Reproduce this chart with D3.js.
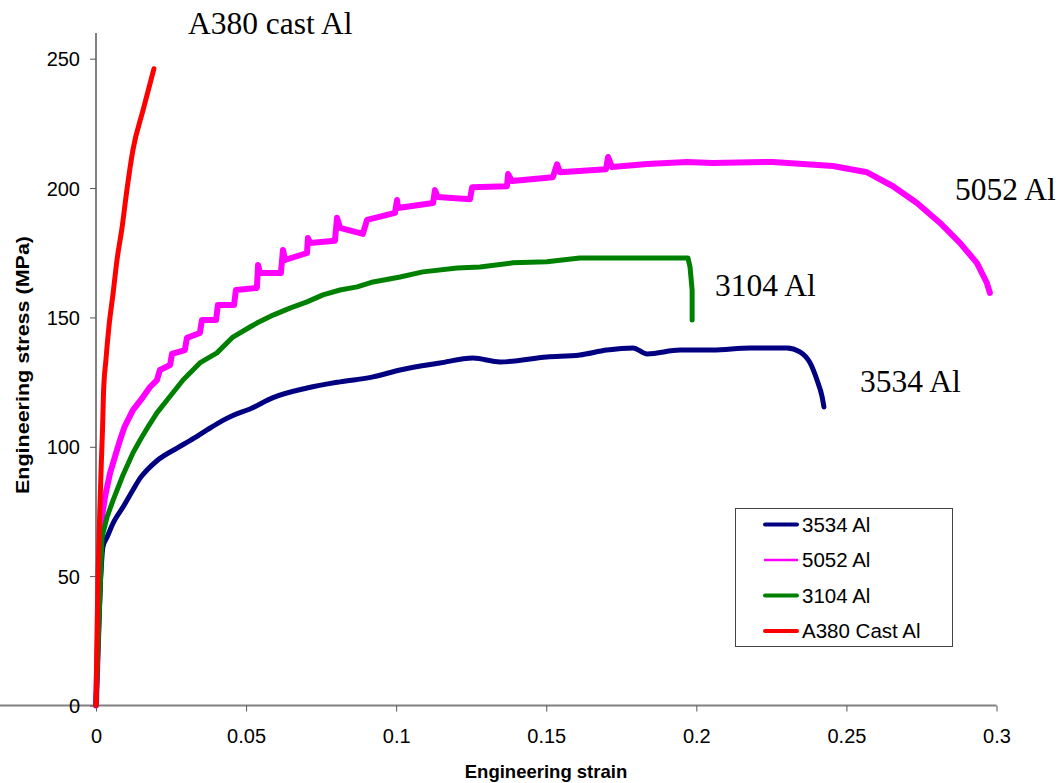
<!DOCTYPE html>
<meta charset='utf-8'>
<head>
  <title>Engineering stress-strain</title>
  <style>
    body { margin: 0; background: #fff; }
    svg { display: block; }
  </style>
</head>
<body>
  <div id='chart'></div>
</body>
<script src='https://d3js.org/d3.v7.min.js'></script>
<script>

// strain, stress (MPa)
var al3534 = [
  [0, 0], [0.0017, 52.4], [0.0023, 61.3], [0.0037, 65.1], [0.0057, 70.5], [0.009, 76.7],
  [0.0123, 83.3], [0.0147, 87.9], [0.017, 91.0], [0.0203, 94.6], [0.027, 99.5], [0.0313, 102.4],
  [0.037, 106.5], [0.0423, 110.2], [0.0456, 112.1], [0.0513, 114.6], [0.059, 119.0], [0.0703, 122.7],
  [0.0813, 125.1], [0.0923, 127.0], [0.1013, 129.7], [0.1146, 132.4], [0.1256, 134.3], [0.1346, 132.8],
  [0.1502, 134.7], [0.1612, 135.5], [0.1702, 137.4], [0.1789, 138.2], [0.1836, 135.9], [0.1946, 137.4],
  [0.2055, 137.4], [0.2179, 138.2], [0.2302, 138.2], [0.2345, 136.7], [0.2379, 132.4], [0.2402, 125.8],
  [0.2419, 119.3], [0.2425, 115.4]
];

var al5052 = [
  [0, 0], [0.002, 72.9], [0.003, 80.6], [0.0047, 89.9], [0.0063, 96.1], [0.008, 102.6],
  [0.0095, 107.7], [0.0123, 114.2], [0.0157, 119.3], [0.018, 123.1], [0.0203, 125.8], [0.0213, 129.7],
  [0.0247, 131.6], [0.0253, 135.9], [0.0296, 137.4], [0.0303, 142.1], [0.0346, 144.0], [0.0353, 149.0],
  [0.04, 149.0], [0.0406, 154.8], [0.046, 154.8], [0.0466, 160.6], [0.0536, 161.4], [0.054, 170.3],
  [0.0546, 167.2], [0.0616, 167.2], [0.0623, 176.1], [0.063, 172.2], [0.0703, 174.9], [0.0706, 180.7],
  [0.0713, 178.8], [0.0796, 179.6], [0.0803, 188.5], [0.0813, 184.6], [0.0889, 182.3], [0.0903, 187.7],
  [0.0996, 190.4], [0.1003, 195.4], [0.1006, 192.3], [0.1123, 194.2], [0.1129, 199.2], [0.1139, 196.5],
  [0.1246, 195.7], [0.1253, 200.3], [0.1369, 200.7], [0.1373, 205.4], [0.1386, 202.7], [0.1522, 204.2],
  [0.1536, 209.2], [0.1546, 206.1], [0.1699, 207.3], [0.1706, 212.0], [0.1719, 208.1], [0.1836, 209.3],
  [0.1969, 210.1], [0.2055, 209.7], [0.2255, 210.1], [0.2455, 208.5], [0.2569, 206.1], [0.2655, 200.7],
  [0.2735, 194.2], [0.2812, 186.5], [0.2878, 178.8], [0.2935, 171.0], [0.2968, 163.3], [0.2978, 159.5]
];

var al3104 = [
  [0, 0], [0.002, 65.1], [0.0037, 72.9], [0.0057, 79.4], [0.009, 89.1], [0.0123, 97.6],
  [0.0147, 102.6], [0.0177, 108.4], [0.0203, 113.1], [0.0237, 118.1], [0.029, 125.8], [0.0346, 132.4],
  [0.0403, 136.3], [0.0456, 142.4], [0.0513, 146.3], [0.0536, 147.8], [0.059, 150.9], [0.0646, 153.6],
  [0.0703, 156.0], [0.0756, 158.7], [0.0813, 160.6], [0.087, 161.8], [0.0923, 163.7], [0.1013, 165.6],
  [0.1089, 167.6], [0.1203, 169.1], [0.1279, 169.5], [0.1389, 171.1], [0.1502, 171.5], [0.1612, 173.0],
  [0.1722, 173.0], [0.1836, 173.0], [0.1972, 173.0], [0.1979, 169.5], [0.1986, 160.6], [0.1986, 149.0]
];

var a380 = [
  [0, 0], [0.0003, 25.3], [0.0007, 51.2], [0.0013, 76.7], [0.0018, 94.9], [0.0022, 107.7],
  [0.0025, 120.8], [0.0033, 133.5], [0.0043, 146.3], [0.0057, 159.4], [0.007, 172.2], [0.0087, 184.9],
  [0.0103, 199.3], [0.0123, 214.7], [0.0157, 230.2], [0.0193, 246.1]
];

var seriesNames = ['3534 Al', '5052 Al', '3104 Al', 'A380 Cast Al'];
var seriesColors = ['#000080', '#ff00ff', '#008000', '#ff0000'];
var xTicks = [0, 0.05, 0.1, 0.15, 0.2, 0.25, 0.3];
var yTicks = [0, 50, 100, 150, 200, 250];
var curveLabels = ['3534 Al', '5052 Al', '3104 Al', 'A380 cast Al'];

var width = 1064, height = 783;

var x = d3.scaleLinear().domain([0, 0.3]).range([96, 996.5]);
var y = d3.scaleLinear().domain([0, 250]).range([705.5, 58.7]);

var svg = d3.select('#chart').append('svg')
    .attr('width', width)
    .attr('height', height)
    .style('font-family', "'Liberation Sans', Arial, sans-serif");

// axes
var xAxis = svg.append('g')
    .attr('transform', 'translate(0,' + y(0) + ')')
    .call(d3.axisBottom(x).tickValues(xTicks).tickFormat(d3.format('')).tickSize(6).tickSizeOuter(0));
var yAxis = svg.append('g')
    .attr('transform', 'translate(' + x(0) + ',0)')
    .call(d3.axisLeft(y).tickValues(yTicks).tickSize(6).tickSizeOuter(0));

[xAxis, yAxis].forEach(function(g) {
  g.select('.domain').attr('stroke', '#808080').attr('stroke-width', 2);
  g.selectAll('.tick line').attr('stroke', '#555').attr('stroke-width', 1);
  g.selectAll('.tick text').attr('fill', '#000').style('font-size', '20px')
      .style('font-family', "'Liberation Sans', Arial, sans-serif");
});
xAxis.selectAll('.tick text').attr('dy', null).attr('y', 37);
yAxis.selectAll('.tick text').attr('x', -16).attr('dy', '0.36em');

// y axis line runs on above 250
yAxis.select('.domain').attr('d', 'M0,' + y(0) + 'V33');
xAxis.select('.domain').attr('d', 'M0,0H' + x(0.3));

svg.append('text')
    .attr('x', 546).attr('y', 778)
    .attr('text-anchor', 'middle')
    .style('font-weight', 'bold').style('font-size', '18.5px')
    .text('Engineering strain');

svg.append('text')
    .attr('transform', 'translate(29,365) rotate(-90)')
    .attr('text-anchor', 'middle')
    .attr('textLength', 258).attr('lengthAdjust', 'spacingAndGlyphs')
    .style('font-weight', 'bold').style('font-size', '18px')
    .text('Engineering stress (MPa)');

// curves
var line = d3.line()
    .x(function(d) { return x(d[0]); })
    .y(function(d) { return y(d[1]); });

var data = [al3534, al5052, al3104, a380];
var widths = [5, 6, 5, 5];
var curves = [d3.curveMonotoneX, d3.curveLinear, d3.curveLinear, d3.curveMonotoneX];
var order = [1, 0, 2, 3];

order.forEach(function(i) {
  svg.append('path')
      .datum(data[i])
      .attr('d', line.curve(curves[i]))
      .attr('fill', 'none')
      .attr('stroke', seriesColors[i])
      .attr('stroke-width', widths[i])
      .attr('stroke-linejoin', 'round')
      .attr('stroke-linecap', 'round');
});

// labels beside the curves
var labelPos = [[860, 392], [955, 200], [715, 296], [188, 34]];
curveLabels.forEach(function(t, i) {
  svg.append('text')
      .attr('x', labelPos[i][0]).attr('y', labelPos[i][1])
      .style('font-family', "'Liberation Serif', 'Times New Roman', serif")
      .style('font-size', '31.5px')
      .text(t);
});

// legend
var legend = svg.append('g');
legend.append('rect')
    .attr('x', 735.5).attr('y', 508.5)
    .attr('width', 217).attr('height', 138)
    .attr('fill', '#fff').attr('stroke', '#444').attr('stroke-width', 1);

var legendWidths = [4, 2.5, 4, 4];
seriesNames.forEach(function(name, i) {
  var ly = 524.5 + i * 35.5;
  legend.append('line')
      .attr('x1', 765).attr('x2', 797).attr('y1', ly).attr('y2', ly)
      .attr('stroke', seriesColors[i]).attr('stroke-width', legendWidths[i])
      .attr('stroke-linecap', 'round');
  legend.append('text')
      .attr('x', 802).attr('y', ly).attr('dy', '0.36em')
      .style('font-size', '20.5px')
      .text(name);
});

</script>
